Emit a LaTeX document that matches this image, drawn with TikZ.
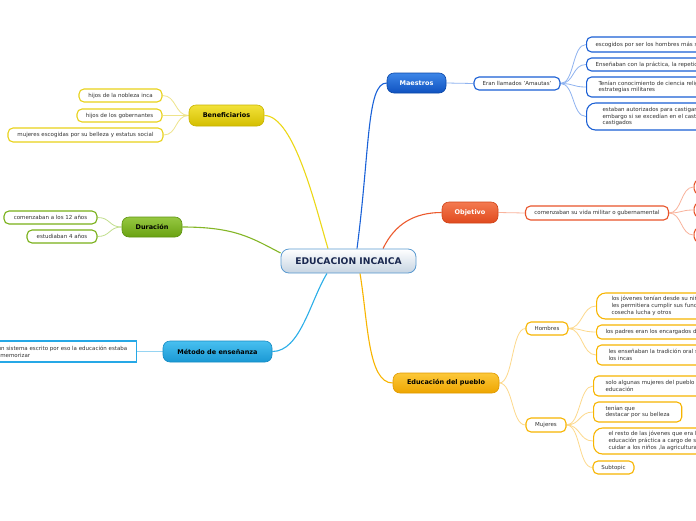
\documentclass[tikz,border=0pt]{standalone}
\usepackage{fontspec}
\setmainfont{DejaVu Sans}
\usetikzlibrary{backgrounds}
\definecolor{txt}{HTML}{333333}
\definecolor{cenTop}{HTML}{FFFFFF}
\definecolor{cenBot}{HTML}{C6D4E2}
\definecolor{cenDraw}{HTML}{5A9AD0}
\definecolor{cenTxt}{HTML}{1A2850}
% blue
\definecolor{bluTop}{HTML}{3D86E8}
\definecolor{bluBot}{HTML}{0F52C0}
\definecolor{bluDraw}{HTML}{0C48A8}
\definecolor{bluLeaf}{HTML}{1A5FD4}
\definecolor{bluLine}{HTML}{1A62D8}
\definecolor{bluLite}{HTML}{8FB3F0}
% orange
\definecolor{oraTop}{HTML}{F47A50}
\definecolor{oraBot}{HTML}{E04A1E}
\definecolor{oraDraw}{HTML}{D04418}
\definecolor{oraLeaf}{HTML}{E8542A}
\definecolor{oraLine}{HTML}{EC5A2E}
\definecolor{oraLite}{HTML}{F9B39C}
% gold
\definecolor{golTop}{HTML}{FCC83A}
\definecolor{golBot}{HTML}{EEA500}
\definecolor{golDraw}{HTML}{E09A00}
\definecolor{golLeaf}{HTML}{F7B500}
\definecolor{golLine}{HTML}{F8B500}
\definecolor{golLite}{HTML}{FDD98C}
% yellow
\definecolor{yelTop}{HTML}{F2E23A}
\definecolor{yelBot}{HTML}{D4BE00}
\definecolor{yelDraw}{HTML}{C8B400}
\definecolor{yelLeaf}{HTML}{E8D21A}
\definecolor{yelLine}{HTML}{ECD818}
\definecolor{yelLite}{HTML}{EEE48A}
% green
\definecolor{grnTop}{HTML}{96C842}
\definecolor{grnBot}{HTML}{6AA212}
\definecolor{grnDraw}{HTML}{5E9410}
\definecolor{grnLeaf}{HTML}{78B018}
\definecolor{grnLine}{HTML}{84B626}
\definecolor{grnLite}{HTML}{C2DF8E}
% cyan
\definecolor{cyaTop}{HTML}{48C0F0}
\definecolor{cyaBot}{HTML}{1A98D4}
\definecolor{cyaDraw}{HTML}{168CC4}
\definecolor{cyaLeaf}{HTML}{26A8E6}
\definecolor{cyaLine}{HTML}{2AAEE8}
\definecolor{cyaLite}{HTML}{96D4F2}
\begin{document}
\begin{tikzpicture}[x=1pt,y=-1pt,
  topic/.style={rounded corners=7pt, minimum height=20pt, inner sep=0pt,
    font=\fontsize{6.5}{7}\selectfont\bfseries, line width=0.6pt},
  leaf/.style={rounded corners=5pt, draw, fill=white, line width=1.1pt,
    inner ysep=0pt, inner xsep=8pt, font=\fontsize{5.5}{6.7}\selectfont,
    text=txt, align=left},
  con/.style={line width=1.1pt},
  twig/.style={line width=0.8pt}]
\useasboundingbox (0,0) rectangle (696,520);
\clip (0,0) rectangle (696,520);

% central topic
\node[rounded corners=8pt, top color=cenTop, bottom color=cenBot, draw=cenDraw,
  line width=0.8pt, minimum width=135pt, minimum height=24pt, inner sep=0pt,
  font=\fontsize{9.2}{10}\selectfont\bfseries, text=cenTxt] (cen) at (348.5,261) {EDUCACION INCAICA};

% main topics
\node[topic, top color=bluTop, bottom color=bluBot, draw=bluDraw, text=white,
  minimum width=59pt] (ma) at (416.5,83) {Maestros};
\node[topic, top color=oraTop, bottom color=oraBot, draw=oraDraw, text=white,
  minimum width=56pt, minimum height=21pt] (ob) at (470,212.5) {Objetivo};
\node[topic, top color=golTop, bottom color=golBot, draw=golDraw, text=black,
  minimum width=106pt] (ed) at (446,383) {Educación del pueblo};
\node[topic, top color=yelTop, bottom color=yelBot, draw=yelDraw, text=black,
  minimum width=75pt, minimum height=21pt] (be) at (226.5,115.5) {Beneficiarios};
\node[topic, top color=grnTop, bottom color=grnBot, draw=grnDraw, text=black,
  minimum width=60pt] (du) at (152,227) {Duración};
\node[topic, top color=cyaTop, bottom color=cyaBot, draw=cyaDraw, text=black,
  minimum width=109pt, minimum height=21pt] (me) at (217.5,351.5) {Método de enseñanza};

% Maestros branch
\node[leaf, draw=bluLeaf, minimum width=86pt, minimum height=13pt] (ama) at (517,83.5)
  {Eran llamados \char39Amautas\char39};
\node[leaf, draw=bluLeaf, minimum height=15pt, anchor=west, inner xsep=9pt] (m1) at (586,44.5)
  {escogidos por ser los hombres más sabios del imperio};
\node[leaf, draw=bluLeaf, minimum height=13pt, anchor=west, inner xsep=9pt] (m2) at (586,64.5)
  {Enseñaban con la práctica, la repetición y la observación};
\node[leaf, draw=bluLeaf, minimum height=20pt, anchor=west, inner xsep=12pt] (m3) at (586,87)
  {Tenían conocimiento de ciencia religión y\\estrategias militares};
\node[leaf, draw=bluLeaf, minimum height=27pt, anchor=west, inner xsep=16pt,
  rounded corners=9pt] (m4) at (586,116.5)
  {estaban autorizados para castigar sin\\embargo si se excedían en el castigo eran\\castigados};

% Objetivo branch
\node[leaf, draw=oraLeaf, minimum width=143pt, minimum height=14pt] (oc) at (597,213)
  {comenzaban su vida militar o gubernamental};
\node[leaf, draw=oraLeaf, minimum width=40pt, minimum height=14pt, anchor=west] (o1) at (693.5,187) {};
\node[leaf, draw=oraLeaf, minimum width=40pt, minimum height=14pt, anchor=west] (o2) at (693.5,210) {};
\node[leaf, draw=oraLeaf, minimum width=40pt, minimum height=14pt, anchor=west] (o3) at (693.5,235) {};

% Educacion del pueblo branch
\node[leaf, draw=golLeaf, minimum width=42pt, minimum height=13pt] (ho) at (547,328.5) {Hombres};
\node[leaf, draw=golLeaf, minimum height=26pt, anchor=west, inner xsep=15pt,
  rounded corners=9pt] (h1) at (596,306)
  {los jóvenes tenían desde su niñez una educación que\\les permitiera cumplir sus funciones como la\\cosecha lucha y otros};
\node[leaf, draw=golLeaf, minimum height=14pt, anchor=west, inner xsep=9pt] (h2) at (596,332)
  {los padres eran los encargados de su educación};
\node[leaf, draw=golLeaf, minimum height=20pt, anchor=west, inner xsep=12pt] (h3) at (596,355)
  {les enseñaban la tradición oral sobre\\los incas};
\node[leaf, draw=golLeaf, minimum width=40pt, minimum height=14pt] (mu) at (546,425) {Mujeres};
\node[leaf, draw=golLeaf, minimum height=20pt, anchor=west, inner xsep=12pt] (w1) at (593,386)
  {solo algunas mujeres del pueblo recibían\\educación};
\node[leaf, draw=golLeaf, minimum height=20pt, anchor=west, inner xsep=12pt] (w2) at (593,412)
  {tenían que\\destacar por su belleza};
\node[leaf, draw=golLeaf, minimum height=26pt, anchor=west, inner xsep=15pt,
  rounded corners=9pt] (w3) at (593,441)
  {el resto de las jóvenes que era la mayoría recibía\\educación práctica a cargo de sus madres como\\cuidar a los niños ,la agricultura};
\node[leaf, draw=golLeaf, minimum width=41pt, minimum height=13pt] (w4) at (613.5,467.5) {Subtopic};

% Beneficiarios branch
\node[leaf, draw=yelLeaf, minimum width=83pt, minimum height=13pt] (b1) at (120.5,95.5) {hijos de la nobleza inca};
\node[leaf, draw=yelLeaf, minimum width=85pt, minimum height=13pt] (b2) at (119.5,115.5) {hijos de los gobernantes};
\node[leaf, draw=yelLeaf, minimum width=155pt, minimum height=14pt] (b3) at (85.5,135) {mujeres escogidas por su belleza y estatus social};

% Duracion branch
\node[leaf, draw=grnLeaf, minimum width=93pt, minimum height=13pt] (d1) at (50.5,217.5) {comenzaban a los 12 años};
\node[leaf, draw=grnLeaf, minimum width=70pt, minimum height=13pt] (d2) at (62,236.5) {estudiaban 4 años};

% Metodo branch
\node[leaf, draw=cyaLeaf, rounded corners=0pt, line width=1.4pt, minimum height=21pt,
  anchor=east, inner xsep=9pt] (mc) at (137,351.5)
  {No tenían ningún sistema escrito por eso la educación estaba\\basada solo en memorizar};

\begin{scope}[on background layer]
\fill[white] (0,0) rectangle (696,520);
% main connectors
\draw[con, draw=bluLine] ([xshift=8.5pt]cen.north) .. controls +(13,-100) and +(-20,0) .. (ma.west);
\draw[con, draw=yelLine] ([xshift=-20.5pt]cen.north) .. controls +(-12,-40) and +(30,0) .. (be.east);
\draw[con, draw=oraLine] ([xshift=34.5pt]cen.north) .. controls +(12,-25) and +(-27,0) .. (ob.west);
\draw[con, draw=grnLine] ([yshift=8pt]cen.west) .. controls +(-29,-15) and +(53,0) .. (du.east);
\draw[con, draw=cyaLine] ([xshift=-21.5pt]cen.south) .. controls +(-17,28) and +(28,0) .. (me.east);
\draw[con, draw=golLine] ([xshift=11.5pt]cen.south) .. controls +(8,48) and +(-25,0) .. (ed.west);
% Maestros twigs
\draw[twig, draw=bluLite] (ma.east) -- (ama.west);
\foreach \t in {m1,m2,m3,m4}
  \draw[twig, draw=bluLite] (ama.east) .. controls +(14,0) and +(-14,0) .. (\t.west);
% Objetivo twigs
\draw[twig, draw=oraLite] (ob.east) -- (oc.west);
\foreach \t in {o1,o2,o3}
  \draw[twig, draw=oraLite] (oc.east) .. controls +(13,0) and +(-13,0) .. (\t.west);
% Educacion twigs
\draw[twig, draw=golLite] (ed.east) .. controls +(14,0) and +(-14,0) .. (ho.west);
\draw[twig, draw=golLite] (ed.east) .. controls +(14,0) and +(-14,0) .. (mu.west);
\foreach \t in {h1,h2,h3}
  \draw[twig, draw=golLite] (ho.east) .. controls +(14,0) and +(-14,0) .. (\t.west);
\foreach \t in {w1,w2,w3,w4}
  \draw[twig, draw=golLite] (mu.east) .. controls +(14,0) and +(-14,0) .. (\t.west);
% Beneficiarios twigs
\foreach \t in {b1,b2,b3}
  \draw[twig, draw=yelLite] (be.west) .. controls +(-14,0) and +(14,0) .. (\t.east);
% Duracion twigs
\foreach \t in {d1,d2}
  \draw[twig, draw=grnLite] (du.west) .. controls +(-13,0) and +(13,0) .. (\t.east);
% Metodo twig
\draw[twig, draw=cyaLite] (me.west) -- (mc.east);
\end{scope}
\end{tikzpicture}
\end{document}
